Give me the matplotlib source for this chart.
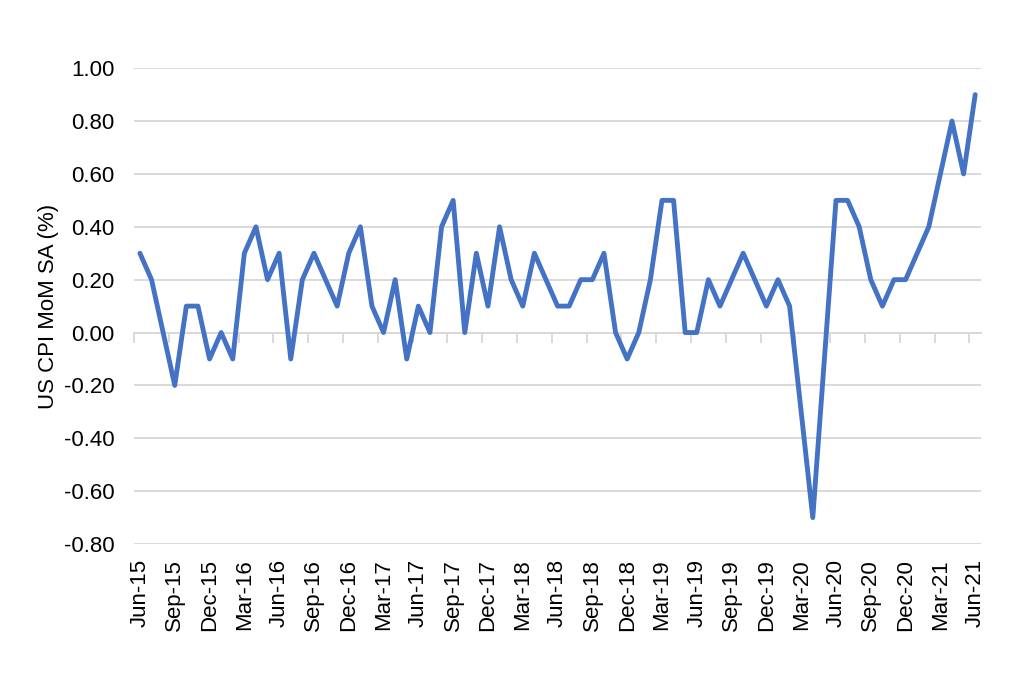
import matplotlib
matplotlib.use('Agg')
import matplotlib.pyplot as plt
import numpy as np

plt.rcParams['font.family'] = ['Liberation Sans', 'DejaVu Sans']

# monthly US CPI MoM SA (%), Jun-15 .. Jun-21
months = ['Jun-15', 'Jul-15', 'Aug-15', 'Sep-15', 'Oct-15', 'Nov-15', 'Dec-15',
          'Jan-16', 'Feb-16', 'Mar-16', 'Apr-16', 'May-16', 'Jun-16',
          'Jul-16', 'Aug-16', 'Sep-16', 'Oct-16', 'Nov-16', 'Dec-16',
          'Jan-17', 'Feb-17', 'Mar-17', 'Apr-17', 'May-17', 'Jun-17',
          'Jul-17', 'Aug-17', 'Sep-17', 'Oct-17', 'Nov-17', 'Dec-17',
          'Jan-18', 'Feb-18', 'Mar-18', 'Apr-18', 'May-18', 'Jun-18',
          'Jul-18', 'Aug-18', 'Sep-18', 'Oct-18', 'Nov-18', 'Dec-18',
          'Jan-19', 'Feb-19', 'Mar-19', 'Apr-19', 'May-19', 'Jun-19',
          'Jul-19', 'Aug-19', 'Sep-19', 'Oct-19', 'Nov-19', 'Dec-19',
          'Jan-20', 'Feb-20', 'Mar-20', 'Apr-20', 'May-20', 'Jun-20',
          'Jul-20', 'Aug-20', 'Sep-20', 'Oct-20', 'Nov-20', 'Dec-20',
          'Jan-21', 'Feb-21', 'Mar-21', 'Apr-21', 'May-21', 'Jun-21']
cpi = [0.3, 0.2, 0.0, -0.2, 0.1, 0.1, -0.1,
       0.0, -0.1, 0.3, 0.4, 0.2, 0.3,
       -0.1, 0.2, 0.3, 0.2, 0.1, 0.3,
       0.4, 0.1, 0.0, 0.2, -0.1, 0.1,
       0.0, 0.4, 0.5, 0.0, 0.3, 0.1,
       0.4, 0.2, 0.1, 0.3, 0.2, 0.1,
       0.1, 0.2, 0.2, 0.3, 0.0, -0.1,
       0.0, 0.2, 0.5, 0.5, 0.0, 0.0,
       0.2, 0.1, 0.2, 0.3, 0.2, 0.1,
       0.2, 0.1, -0.3, -0.7, -0.1, 0.5,
       0.5, 0.4, 0.2, 0.1, 0.2, 0.2,
       0.3, 0.4, 0.6, 0.8, 0.6, 0.9]
yticks = [1.0, 0.8, 0.6, 0.4, 0.2, 0.0, -0.2, -0.4, -0.6, -0.8]

x = np.arange(len(months))
grid_col = '#d9d9d9'

fig = plt.figure(figsize=(10.24, 6.75), dpi=100)
ax = fig.add_axes([0.131, 0.194, 0.827, 0.705])

ax.plot(x, cpi, color='#4472C4', lw=3.5, solid_joinstyle='round',
        solid_capstyle='round', zorder=3)

ax.set_ylim(-0.8, 1.0)
ax.set_yticks(yticks)
ax.set_yticklabels(['%.2f' % v for v in yticks])
ax.yaxis.grid(True, color=grid_col, lw=1.4)
ax.set_axisbelow(True)
ax.set_xlim(-0.5, len(months) - 0.5)
ax.set_xticks(x[::3])
ax.set_xticklabels(months[::3], rotation=90)
ax.tick_params(axis='x', length=0, pad=11, labelsize=16, colors='black')
ax.tick_params(axis='y', length=0, pad=14, labelsize=16, colors='black')
for s in ax.spines.values():
    s.set_visible(False)

# category axis crossing at zero, ticks between categories
sec = ax.secondary_xaxis(0.8 / 1.8)
sec.set_xticks(np.arange(-0.5, len(months), 3))
sec.set_xticklabels([])
sec.tick_params(length=7, width=1.4, color=grid_col)
sec.spines['bottom'].set_color(grid_col)
sec.spines['bottom'].set_linewidth(1.4)

ax.set_ylabel('US CPI MoM SA (%)', fontsize=16, labelpad=4)

fig.savefig('out.png', dpi=100)
